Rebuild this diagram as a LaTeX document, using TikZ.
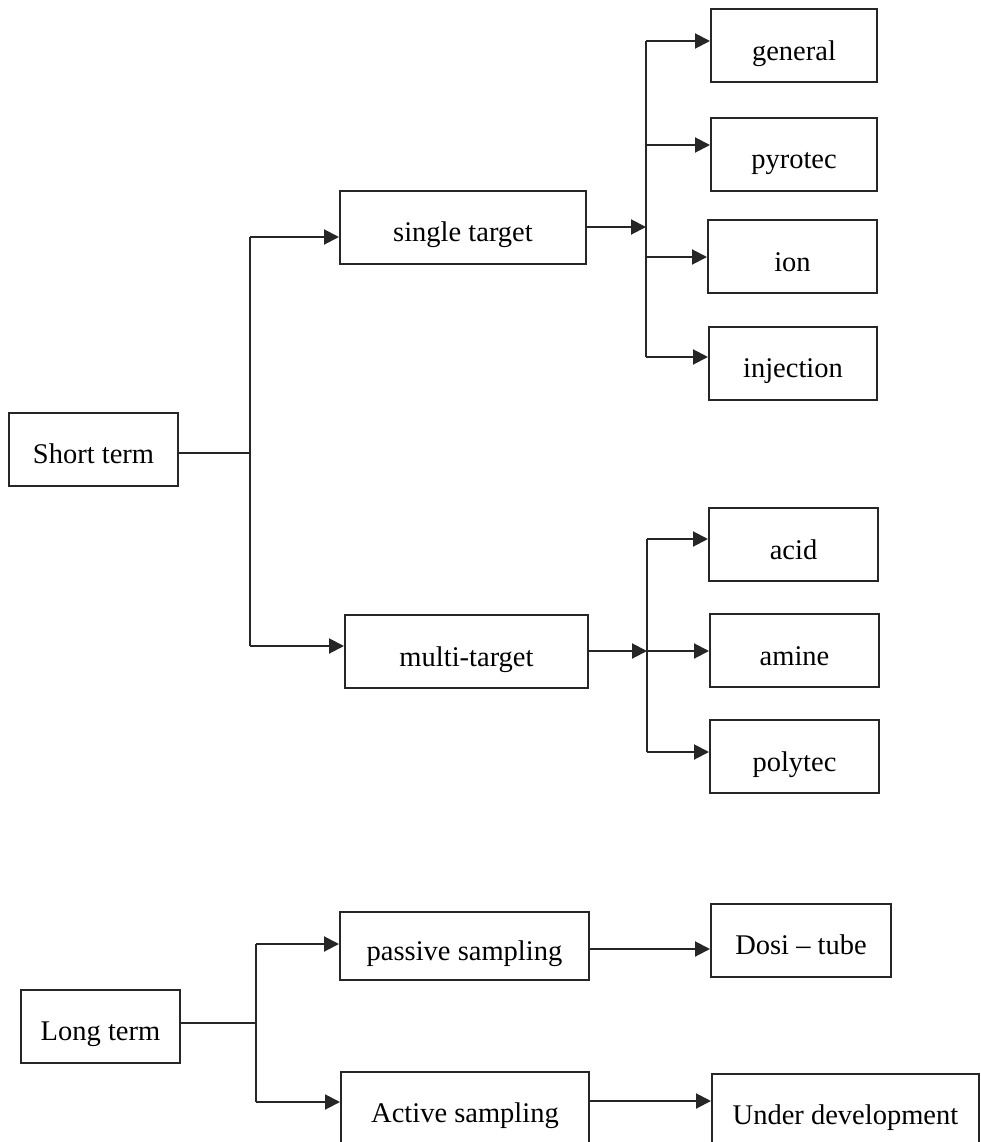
\documentclass[tikz,border=0pt]{standalone}
\usepackage{fontspec}
\setmainfont{Liberation Serif}
\usetikzlibrary{arrows.meta}

\begin{document}
\begin{tikzpicture}[x=1pt, y=-1pt,
        box/.style={draw=black!85, line width=2pt, inner sep=0pt,
                    text height=29pt, text depth=0pt,
                    minimum height=73pt, font=\fontsize{28.5}{34}\selectfont},
        link/.style={draw=black!85, line width=2pt},
        arr/.style={link, -{Triangle[length=15pt, width=15pt]}}]
    \clip (0,0) rectangle (980,1142);
    % short term
    \node[box, minimum width=169pt] (short)     at (93.5, 449)   {Short term};
    \node[box, minimum width=246pt] (single)    at (463, 227)    {single target};
    \node[box, minimum width=243pt] (multi)     at (466.5, 651.5) {multi-target};
    \node[box, minimum width=166pt] (general)   at (794, 46)     {general};
    \node[box, minimum width=166pt] (pyrotec)   at (794, 154.5)  {pyrotec};
    \node[box, minimum width=169pt] (ion)       at (792.5, 256.5) {ion};
    \node[box, minimum width=168pt] (injection) at (793, 363)    {injection};
    \node[box, minimum width=169pt] (acid)      at (793.5, 544.5) {acid};
    \node[box, minimum width=169pt] (amine)     at (794.5, 650.5) {amine};
    \node[box, minimum width=169pt] (polytec)   at (794.5, 756.5) {polytec};
    % long term
    \node[box, minimum width=159pt] (long)      at (100.5, 1026) {Long term};
    \node[box, minimum width=249pt, minimum height=68pt] (passive) at (464.5, 946) {passive sampling};
    \node[box, minimum width=248pt] (active)    at (465, 1108)   {Active sampling};
    \node[box, minimum width=180pt] (dosi)      at (801, 940)    {Dosi -- tube};
    \node[box, minimum width=267pt] (under)     at (845.5, 1110) {Under development};

    \coordinate (sj)  at (250, 453);
    \coordinate (st)  at (250, 237);
    \coordinate (sb)  at (250, 646);
    \coordinate (tj)  at (646, 227);
    \coordinate (mj)  at (647, 651);
    \coordinate (lj)  at (256, 1023);
    \coordinate (lt)  at (256, 944);
    \coordinate (lb)  at (256, 1102);

    \draw[link] (short.east |- sj) -- (sj);
    \draw[link] (st) -- (sb);
    \draw[arr]  (st) -- (st -| single.west);
    \draw[arr]  (sb) -- (sb -| multi.west);

    \draw[arr]  (single.east |- tj) -- (tj);
    \draw[link] (646, 41) -- (646, 357);
    \foreach \n/\y in {general/41, pyrotec/145, ion/257, injection/357} {
        \coordinate (\n-in) at (646, \y);
        \draw[arr] (\n-in) -- (\n-in -| \n.west);
    }

    \draw[arr]  (multi.east |- mj) -- (mj);
    \draw[link] (647, 539) -- (647, 752);
    \foreach \n/\y in {acid/539, amine/651, polytec/752} {
        \coordinate (\n-in) at (647, \y);
        \draw[arr] (\n-in) -- (\n-in -| \n.west);
    }

    \draw[link] (long.east |- lj) -- (lj);
    \draw[link] (lt) -- (lb);
    \draw[arr]  (lt) -- (lt -| passive.west);
    \draw[arr]  (lb) -- (lb -| active.west);
    \coordinate (pd) at (589, 949);
    \coordinate (au) at (589, 1101);
    \draw[arr]  (pd) -- (pd -| dosi.west);
    \draw[arr]  (au) -- (au -| under.west);
\end{tikzpicture}
\end{document}
